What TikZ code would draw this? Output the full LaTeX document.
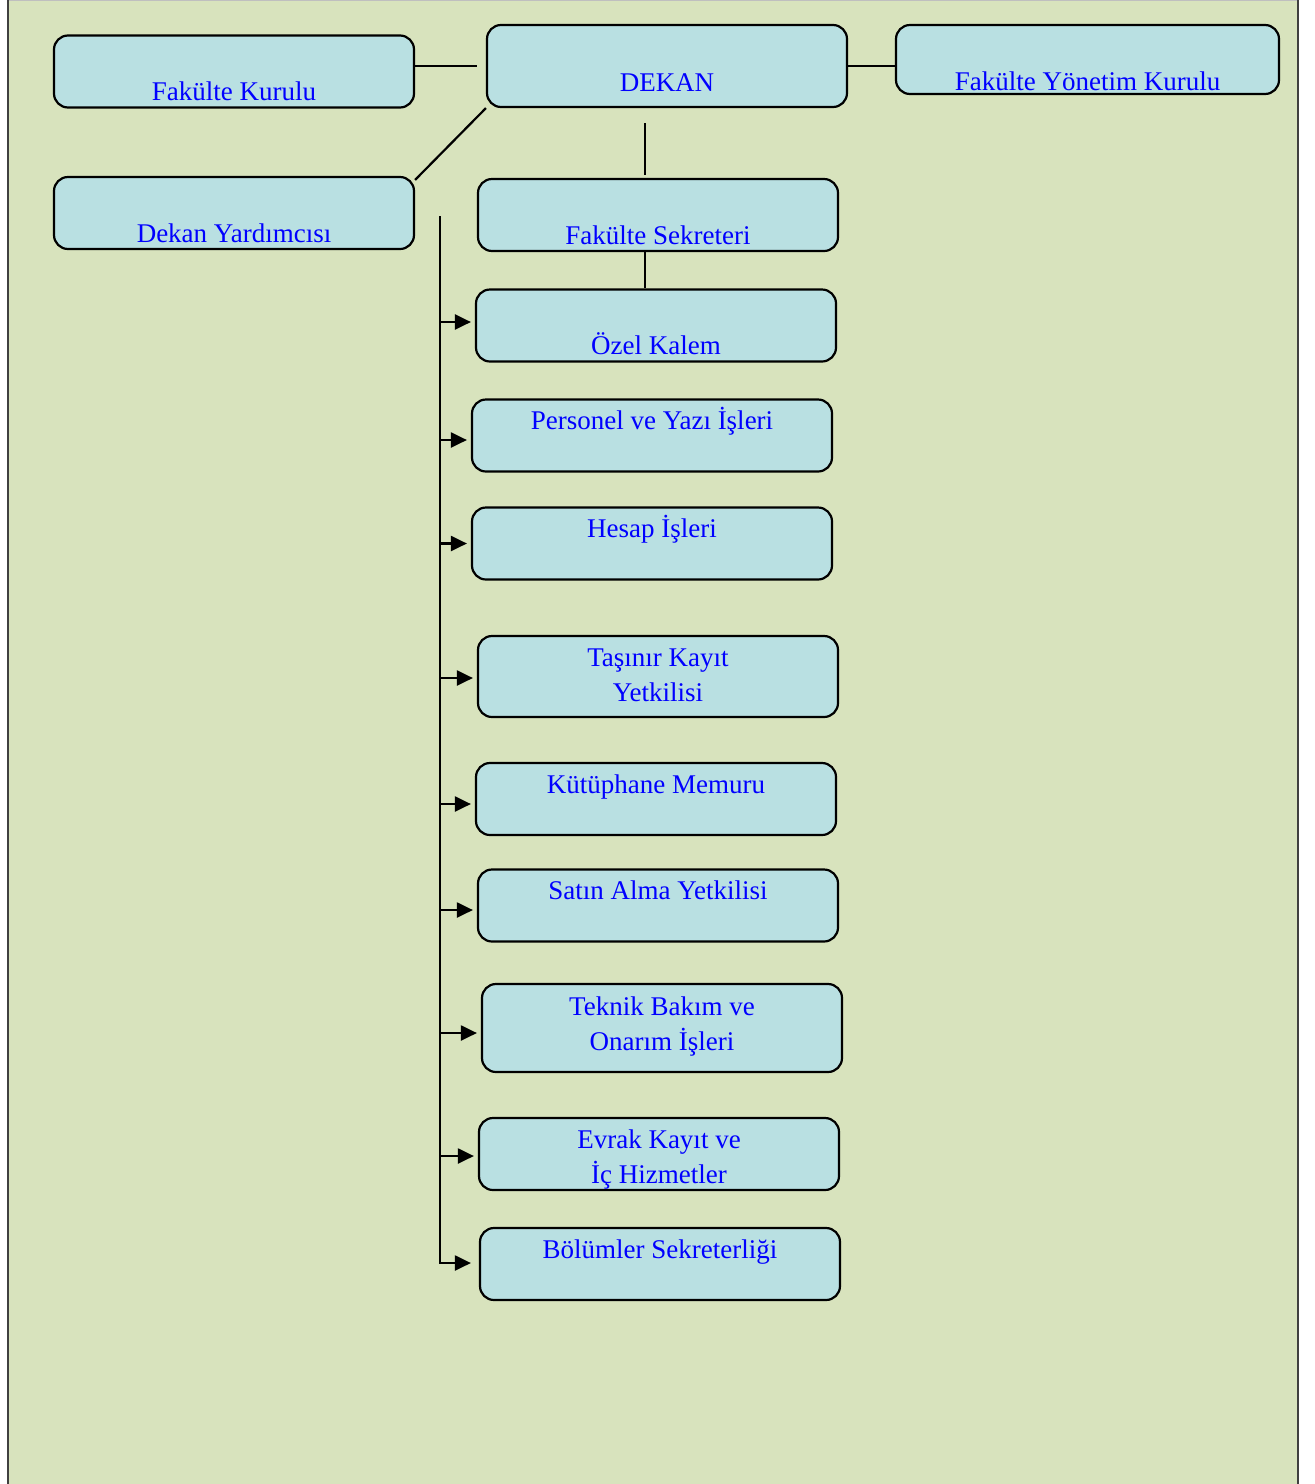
\documentclass[tikz,border=0pt]{standalone}
\usepackage{fontspec}
\setmainfont{Liberation Serif}
\usepackage{xcolor}
\usetikzlibrary{arrows.meta}

\definecolor{zemin}{RGB}{216,227,189}
\definecolor{kutumavi}{RGB}{185,224,226}
\definecolor{yazimavi}{RGB}{0,0,255}

\tikzset{
    kutu/.style={draw=black, line width=1.1pt, fill=kutumavi, rounded corners=7pt,
        minimum width=180pt, minimum height=36pt, inner sep=0pt},
    yazi/.style={text=yazimavi, font=\fontsize{13.5}{17.5}\selectfont,
        align=center, anchor=base, inner sep=0pt},
    cizgi/.style={line width=1.1pt, draw=black},
    ok/.style={cizgi, -{Triangle[length=8pt, width=7.5pt]}}
}

\begin{document}
\begin{tikzpicture}[x=0.5pt, y=-0.5pt]
    \useasboundingbox (0,0) rectangle (1314,1484);
    % zemin
    \fill [zemin] (8,0) rectangle (1298,1484);
    \draw [line width=1pt, draw=black!25] (8,0) -- (1298,0);
    \draw [line width=1pt, draw=black!75] (8,0) -- (8,1484) (1298,0) -- (1298,1484);

    % ust kisim
    \node [kutu] (kurul) at (234,71.5) {};
    \node [kutu, minimum height=41pt] (dekan) at (667,66) {};
    \node [kutu, minimum width=191.5pt, minimum height=34.5pt] (yonetim) at (1087.5,59.5) {};
    \node [kutu] (yardimci) at (234,213) {};
    \node [kutu] (sekreter) at (658,215) {};

    % birimler
    \node [kutu] (ozel) at (656,325.5) {};
    \node [kutu] (personel) at (652,435.5) {};
    \node [kutu] (hesap) at (652,543.5) {};
    \node [kutu, minimum height=40.5pt] (tasinir) at (658,676.5) {};
    \node [kutu] (kutup) at (656,799) {};
    \node [kutu] (satin) at (658,905.5) {};
    \node [kutu, minimum height=44pt] (teknik) at (662,1028) {};
    \node [kutu] (evrak) at (659,1154) {};
    \node [kutu] (bolum) at (660,1264) {};

    % yazilar
    \node [yazi] at (234,100) {Fakülte Kurulu};
    \node [yazi] at (667,91) {DEKAN};
    \node [yazi] at (1087.5,90) {Fakülte Yönetim Kurulu};
    \node [yazi] at (234,242) {Dekan Yardımcısı};
    \node [yazi] at (658,244) {Fakülte Sekreteri};
    \node [yazi] at (656,354) {Özel Kalem};
    \node [yazi] at (652,429) {Personel ve Yazı İşleri};
    \node [yazi] at (652,537) {Hesap İşleri};
    \node [yazi] at (658,701) {Taşınır Kayıt\\Yetkilisi};
    \node [yazi] at (656,793) {Kütüphane Memuru};
    \node [yazi] at (658,899) {Satın Alma Yetkilisi};
    \node [yazi] at (662,1050) {Teknik Bakım ve\\Onarım İşleri};
    \node [yazi] at (659,1183) {Evrak Kayıt ve\\İç Hizmetler};
    \node [yazi] at (660,1258) {Bölümler Sekreterliği};

    % baglantilar
    \coordinate (d1) at (645,123);
    \coordinate (d2) at (645,175);
    \coordinate (ust) at (440,216);
    \draw [cizgi] (kurul.east |- dekan.west) -- ([xshift=-4.5pt]dekan.west);
    \draw [cizgi] (dekan.east) -- (dekan.east -| yonetim.west);
    \draw [cizgi] (dekan.south west) -- ([yshift=-2pt]yardimci.north east);
    \draw [cizgi] (d1) -- (d2);
    \draw [cizgi] (sekreter.south -| d1) -- (ozel.north -| d1);
    \draw [ok] (ust) |- ([yshift=0.5pt, xshift=-4pt]bolum.west);
    \foreach \k/\s in {ozel/1.75, personel/-2.25, hesap/0, tasinir/-0.75,
        kutup/-2.5, satin/-2.25, teknik/-2.5, evrak/-1} {
        \coordinate (uc) at ([yshift=\s pt]\k.west);
        \draw [ok] (ust |- uc) -- ([xshift=-2pt]uc);
    }
\end{tikzpicture}
\end{document}
